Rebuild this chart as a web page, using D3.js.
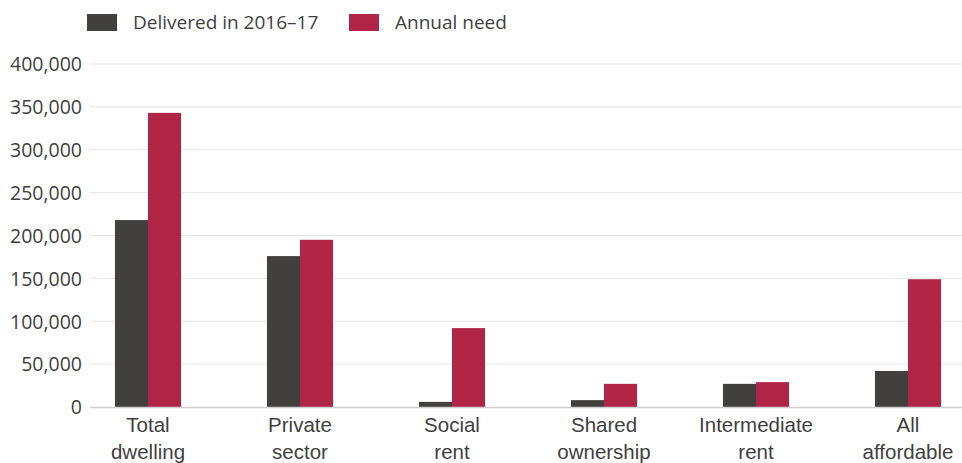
<!DOCTYPE html>
<html>
<head>
<meta charset="utf-8">
<script src="https://cdn.jsdelivr.net/npm/d3@7"></script>
<style>
  html, body { margin: 0; padding: 0; background: #fff; }
  svg { display: block; font-family: "Open Sans", "Noto Sans", sans-serif; }
</style>
</head>
<body>
<svg id="chart" width="962" height="463"></svg>
<script>
// Housing supply vs annual need, by tenure
const categories = [
  ["Total", "dwelling"],
  ["Private", "sector"],
  ["Social", "rent"],
  ["Shared", "ownership"],
  ["Intermediate", "rent"],
  ["All", "affordable"]
];
const seriesNames = ["Delivered in 2016–17", "Annual need"];
const delivered = [218000, 176000, 6000, 8000, 27000, 42000];
const annualNeed = [343000, 195000, 92000, 27000, 29000, 149000];
const yTicks = [0, 50000, 100000, 150000, 200000, 250000, 300000, 350000, 400000];
const colors = ["#42403f", "#b02546"];

const svg = d3.select("#chart");
const textColor = "#3f3f3f";

const keys = categories.map(c => c.join(" "));
const rows = keys.map((k, i) => ({ key: k, lines: categories[i], values: [delivered[i], annualNeed[i]] }));

const y = d3.scaleLinear().domain([0, 400000]).range([407, 64]);
const x0 = d3.scaleBand().domain(keys).range([72, 984]).paddingInner(0.565).paddingOuter(0.2825);
const x1 = d3.scaleBand().domain([0, 1]).range([0, x0.bandwidth()]);

// gridlines
svg.append("g")
  .selectAll("line")
  .data(yTicks.filter(t => t > 0))
  .join("line")
  .attr("x1", 90).attr("x2", 962)
  .attr("y1", d => y(d)).attr("y2", d => y(d))
  .attr("stroke", "#e5e5e5").attr("stroke-width", 1);

// y axis labels
const yAxis = d3.axisLeft(y).tickValues(yTicks).tickSize(0).tickPadding(0)
  .tickFormat(d3.format(","));
const gy = svg.append("g").attr("transform", "translate(82,0)").call(yAxis);
gy.select(".domain").remove();
gy.selectAll("text").attr("fill", textColor).attr("font-size", 19.5)
  .attr("font-family", "'Open Sans', 'Noto Sans', sans-serif").attr("dy", "0.35em");

// bars
const groups = svg.append("g").selectAll("g")
  .data(rows).join("g")
  .attr("transform", d => `translate(${x0(d.key)},0)`);
groups.selectAll("rect")
  .data(d => d.values.map((v, i) => ({ v, i })))
  .join("rect")
  .attr("x", d => x1(d.i))
  .attr("width", x1.bandwidth())
  .attr("y", d => y(d.v))
  .attr("height", d => y(0) - y(d.v))
  .attr("fill", d => colors[d.i]);

// baseline
svg.append("line")
  .attr("x1", 90).attr("x2", 962)
  .attr("y1", y(0) + 0.5).attr("y2", y(0) + 0.5)
  .attr("stroke", "#cfcfcf").attr("stroke-width", 1.5);

// category labels
const xAxis = d3.axisBottom(x0).tickSize(0).tickPadding(0).tickFormat("");
const gx = svg.append("g").attr("transform", `translate(0,${y(0)})`).call(xAxis);
gx.select(".domain").remove();
gx.selectAll(".tick").each(function (d, i) {
  const t = d3.select(this).append("text")
    .attr("fill", textColor).attr("font-size", 20.5)
    .attr("text-anchor", "middle");
  categories[i].forEach((line, j) => {
    t.append("tspan").attr("x", 0).attr("y", 25 + j * 27).text(line);
  });
});

// legend
const legend = svg.append("g");
const legendX = [87, 349];
seriesNames.forEach((name, i) => {
  legend.append("rect").attr("x", legendX[i]).attr("y", 14)
    .attr("width", 30).attr("height", 17).attr("fill", colors[i]);
  legend.append("text").attr("x", legendX[i] + 46).attr("y", 29)
    .attr("fill", textColor).attr("font-size", 19).text(name);
});
</script>
</body>
</html>
